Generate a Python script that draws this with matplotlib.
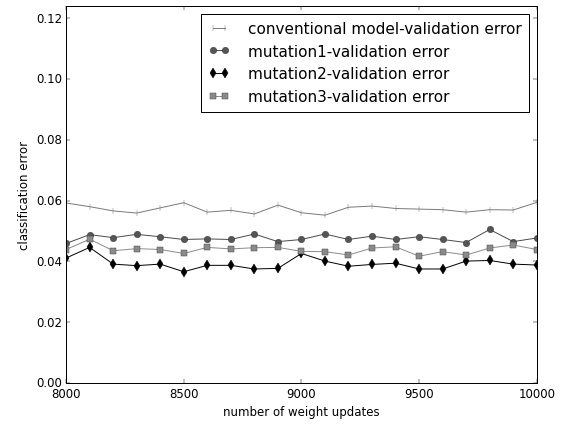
import matplotlib
matplotlib.use("Agg")
import matplotlib.pyplot as plt
import numpy as np

# weight updates (every 100 from 8000 to 10000)
updates = np.arange(8000, 10001, 100)

conventional = [0.0592, 0.0580, 0.0566, 0.0559, 0.0576, 0.0593, 0.0562, 0.0568, 0.0556, 0.0585,
                0.0560, 0.0552, 0.0578, 0.0582, 0.0574, 0.0572, 0.0570, 0.0562, 0.0570, 0.0569,
                0.0594]
mutation1 = [0.0459, 0.0488, 0.0478, 0.0489, 0.0481, 0.0472, 0.0474, 0.0472, 0.0490, 0.0465,
             0.0472, 0.0490, 0.0472, 0.0483, 0.0472, 0.0481, 0.0472, 0.0462, 0.0505, 0.0465,
             0.0477]
mutation2 = [0.0411, 0.0446, 0.0391, 0.0386, 0.0391, 0.0366, 0.0387, 0.0387, 0.0375, 0.0377,
             0.0426, 0.0401, 0.0384, 0.0390, 0.0394, 0.0375, 0.0375, 0.0401, 0.0403, 0.0391,
             0.0388]
mutation3 = [0.0439, 0.0473, 0.0435, 0.0442, 0.0439, 0.0426, 0.0446, 0.0441, 0.0445, 0.0446,
             0.0433, 0.0432, 0.0421, 0.0444, 0.0448, 0.0417, 0.0432, 0.0421, 0.0444, 0.0454,
             0.0439]

labels = ["conventional model-validation error", "mutation1-validation error",
          "mutation2-validation error", "mutation3-validation error"]

plt.style.use('classic')
dpi = 70.625
fig = plt.figure(figsize=(565 / dpi, 425 / dpi), dpi=dpi, facecolor='white')
ax = fig.add_axes([0.117, 0.0965, 0.833, 0.887])

ax.plot(updates, conventional, color='#7a7a7a', marker='|', markersize=7,
        markeredgecolor='#7a7a7a', linewidth=1.0, label=labels[0])
ax.plot(updates, mutation1, color='#4a4a4a', marker='o', markersize=6.5,
        markerfacecolor='#555555', markeredgecolor='#333333', linewidth=1.0, label=labels[1])
ax.plot(updates, mutation2, color='black', marker='d', markersize=7.5,
        markerfacecolor='black', markeredgecolor='black', linewidth=1.0, label=labels[2])
ax.plot(updates, mutation3, color='#8c8c8c', marker='s', markersize=5.5,
        markerfacecolor='#8a8a8a', markeredgecolor='#4a4a4a', linewidth=1.0, label=labels[3])

ax.set_xlim(8000, 10000)
ax.set_ylim(0, 0.124)
ax.set_xticks([8000, 8500, 9000, 9500, 10000])
ax.set_yticks([0.00, 0.02, 0.04, 0.06, 0.08, 0.10, 0.12])
ax.set_yticklabels(["0.00", "0.02", "0.04", "0.06", "0.08", "0.10", "0.12"])
ax.set_xlabel("number of weight updates", fontsize=12)
ax.set_ylabel("classification error", fontsize=12)
ax.tick_params(labelsize=12)

leg = ax.legend(loc='upper right', numpoints=2, fontsize=15.5, fancybox=False,
                frameon=True, borderaxespad=0.5, handlelength=1.4,
                handletextpad=1.2, labelspacing=0.5, borderpad=0.5)
leg.get_frame().set_edgecolor('black')

fig.savefig("out.png", dpi=dpi, facecolor='white')
